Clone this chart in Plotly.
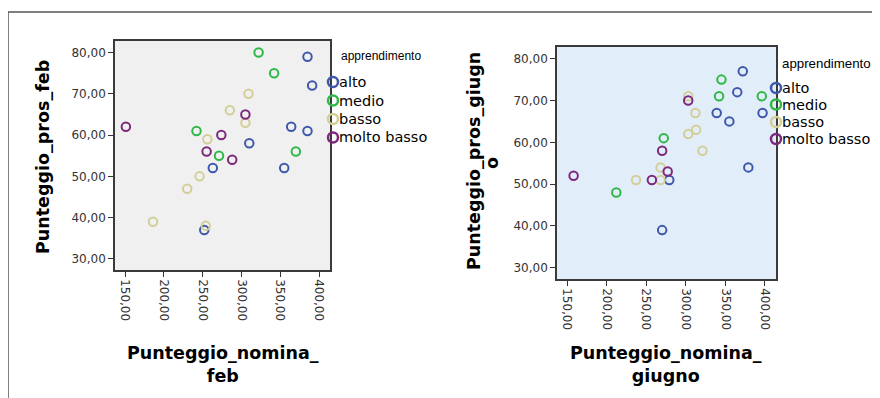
import plotly.graph_objects as go

# ---------------- data ----------------
groups = ["alto", "medio", "basso", "molto basso"]
group_colors = ["#3E58AC", "#2EB848", "#D3CE97", "#7C287D"]

# February panel: Punteggio_nomina_feb (x) vs Punteggio_pros_feb (y)
feb_alto_x = [385, 391, 364, 385, 310, 263, 355, 252]
feb_alto_y = [79, 72, 62, 61, 58, 52, 52, 37]
feb_medio_x = [322, 342, 242, 370, 271]
feb_medio_y = [80, 75, 61, 56, 55]
feb_basso_x = [309, 285, 305, 256, 246, 230, 186, 254]
feb_basso_y = [70, 66, 63, 59, 50, 47, 39, 38]
feb_mbasso_x = [305, 151, 274, 255, 288]
feb_mbasso_y = [65, 62, 60, 56, 54]

# June panel: Punteggio_nomina_giugno (x) vs Punteggio_pros_giugno (y)
giu_alto_x = [372, 365, 339, 397, 355, 379, 279, 270]
giu_alto_y = [77, 72, 67, 67, 65, 54, 51, 39]
giu_medio_x = [345, 342, 396, 272, 212]
giu_medio_y = [75, 71, 71, 61, 48]
giu_basso_x = [303, 312, 313, 303, 321, 268, 237, 268]
giu_basso_y = [71, 67, 63, 62, 58, 54, 51, 51]
giu_mbasso_x = [303, 270, 277, 158, 257]
giu_mbasso_y = [70, 58, 53, 52, 51]

x_ticks = [150, 200, 250, 300, 350, 400]
y_ticks = [30, 40, 50, 60, 70, 80]

feb_series = [(feb_alto_x, feb_alto_y), (feb_medio_x, feb_medio_y),
              (feb_basso_x, feb_basso_y), (feb_mbasso_x, feb_mbasso_y)]
giu_series = [(giu_alto_x, giu_alto_y), (giu_medio_x, giu_medio_y),
              (giu_basso_x, giu_basso_y), (giu_mbasso_x, giu_mbasso_y)]

# page body has an 8px margin: figure occupies window pixels 8..880 / 8..398
OFF = 8
W, H = 880 - OFF, 398 - OFF
fig = go.Figure()

for (xs, ys), name, col in zip(feb_series, groups, group_colors):
    fig.add_trace(go.Scatter(x=xs, y=ys, mode="markers", name=name, xaxis="x", yaxis="y",
                             marker=dict(symbol="circle-open", size=8.5, color=col,
                                         line=dict(width=2, color=col)),
                             showlegend=False))
for (xs, ys), name, col in zip(giu_series, groups, group_colors):
    fig.add_trace(go.Scatter(x=xs, y=ys, mode="markers", name=name, xaxis="x2", yaxis="y2",
                             marker=dict(symbol="circle-open", size=8.5, color=col,
                                         line=dict(width=2, color=col)),
                             showlegend=False))

def px_x(p):
    return (p - OFF) / W

def px_y(p):
    return 1 - (p - OFF) / H

tickfont = dict(family="DejaVu Sans", size=12, color="#333333")
titlefont = dict(family="DejaVu Sans", size=17.5, color="#000000", weight="bold")

def xaxis(domain, anchor):
    return dict(domain=domain, anchor=anchor, range=[137, 414], tickvals=x_ticks,
                tickformat=".2f", tickangle=90, ticks="outside", ticklen=5,
                tickcolor="#333333", tickfont=tickfont, showline=True, mirror=True,
                linecolor="#3a3a3a", linewidth=1.5, showgrid=False, zeroline=False,
                automargin=False)

def yaxis(domain, anchor):
    return dict(domain=domain, anchor=anchor, range=[27.3, 82.8], tickvals=y_ticks,
                tickformat=".2f", ticks="outside", ticklen=5, tickcolor="#333333",
                tickfont=tickfont, showline=True, mirror=True, linecolor="#3a3a3a",
                linewidth=1.5, showgrid=False, zeroline=False, automargin=False)

fig.update_layout(
    width=W, height=H, margin=dict(l=0, r=0, t=0, b=0),
    paper_bgcolor="white", plot_bgcolor="rgba(0,0,0,0)",
    separators=",.",
    showlegend=False,
    xaxis=xaxis([px_x(115), px_x(330)], "y"),
    yaxis=yaxis([px_y(270), px_y(41)], "x"),
    xaxis2=xaxis([px_x(557), px_x(776)], "y2"),
    yaxis2=yaxis([px_y(279), px_y(47)], "x2"),
)

shapes = []
# panel backgrounds
shapes.append(dict(type="rect", xref="x domain", yref="y domain", x0=0, x1=1, y0=0, y1=1,
                   fillcolor="#F0F0F0", line=dict(width=0), layer="below"))
shapes.append(dict(type="rect", xref="x2 domain", yref="y2 domain", x0=0, x1=1, y0=0, y1=1,
                   fillcolor="#E2EDFA", line=dict(width=0), layer="below"))
# outer frame
shapes.append(dict(type="rect", xref="paper", yref="paper", x0=px_x(8), x1=1.05,
                   y0=-0.05, y1=px_y(12), line=dict(color="#555555", width=1.5),
                   layer="below"))

annotations = []

def title_text(text, cx, cy, angle=0):
    annotations.append(dict(xref="paper", yref="paper", x=px_x(cx), y=px_y(cy), text=text,
                            showarrow=False, xanchor="center", yanchor="middle",
                            textangle=angle, font=titlefont))

# axis titles
title_text("Punteggio_nomina_<br>feb", 223, 364)
title_text("Punteggio_pros_feb", 43, 157, -90)
title_text("Punteggio_nomina_<br>giugno", 666, 364)
title_text("Punteggio_pros_giugn", 474, 161, -90)
title_text("o", 492, 163, -90)

def add_legend(title_x, title_y, mark_x, text_x, ys, title_size, item_size):
    annotations.append(dict(xref="paper", yref="paper", x=px_x(title_x), y=px_y(title_y),
                            text="apprendimento", showarrow=False, xanchor="left",
                            yanchor="middle",
                            font=dict(family="Liberation Sans", size=title_size, color="#000")))
    for g, col, yy in zip(groups, group_colors, ys):
        r = 5
        shapes.append(dict(type="circle", xref="paper", yref="paper",
                           x0=px_x(mark_x - r), x1=px_x(mark_x + r),
                           y0=px_y(yy + r), y1=px_y(yy - r),
                           line=dict(color=col, width=2.5)))
        annotations.append(dict(xref="paper", yref="paper", x=px_x(text_x), y=px_y(yy),
                                text=g, showarrow=False, xanchor="left", yanchor="middle",
                                font=dict(family="DejaVu Sans", size=item_size,
                                          color="#000000")))

add_legend(339, 56, 333, 337, [82, 100.5, 119, 137.5], 12, 14.5)
add_legend(780, 64, 776, 780, [88, 104.5, 122, 139], 13.3, 14.5)

fig.update_layout(shapes=shapes, annotations=annotations)
fig.write_html("out.html")
